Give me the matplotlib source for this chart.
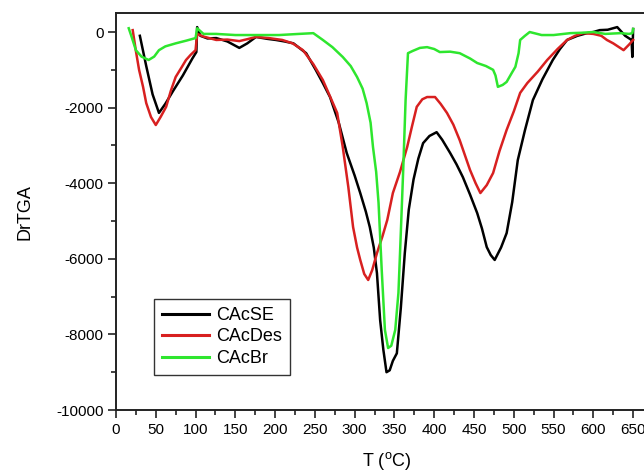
"""DrTGA curves of the three CAc samples."""

import matplotlib

matplotlib.use("Agg")
import matplotlib.pyplot as plt
from matplotlib.ticker import MultipleLocator

plt.rcParams["font.family"] = ["Liberation Sans", "DejaVu Sans"]
plt.rcParams["mathtext.fontset"] = "custom"
plt.rcParams["mathtext.rm"] = "Liberation Sans"
plt.rcParams["axes.unicode_minus"] = False

# values (T in °C, DrTGA)
t_se = [30, 38, 46, 54, 62, 72, 84, 96, 101, 102, 106, 115, 126, 140, 155, 165, 176,
        190, 201, 212, 223, 239, 251, 260, 269, 280, 290, 300, 307, 314, 319, 324, 328,
        332, 336, 340, 344, 348, 353, 358, 363, 368, 374, 380, 386, 394, 403, 410, 420,
        428, 436, 445, 454, 460, 466, 471, 476, 484, 491, 498, 505, 514, 524, 536, 549,
        558, 567, 580, 592, 600, 608, 618, 630, 640, 648, 649, 650]
v_se = [-100, -900, -1650, -2140, -1900, -1550, -1150, -700, -530, 130, -100, -170, -160,
        -250, -420, -300, -130, -180, -210, -250, -300, -560, -1000, -1350, -1720, -2400,
        -3200, -3800, -4260, -4750, -5160, -5700, -6380, -7620, -8400, -9000, -8950, -8700,
        -8500, -7300, -5850, -4700, -3900, -3350, -2940, -2750, -2650, -2850, -3200, -3500,
        -3840, -4300, -4790, -5200, -5690, -5900, -6030, -5700, -5320, -4500, -3390, -2600,
        -1800, -1250, -740, -450, -210, -100, -30, 0, 50, 60, 130, -100, -210, -660, 80]

t_des = [21, 25, 29, 34, 38, 44, 50, 56, 63, 69, 75, 82, 88, 94, 100, 102, 110, 126, 140,
         155, 165, 176, 192, 209, 222, 235, 248, 260, 270, 278, 285, 292, 298, 303, 307,
         312, 317, 322, 328, 335, 341, 348, 357, 366, 372, 378, 385, 391, 401, 408, 416,
         424, 432, 445, 452, 458, 466, 474, 482, 491, 500, 508, 517, 530, 542, 555, 567,
         577, 587, 600, 610, 617, 625, 638, 645, 650]
v_des = [50, -500, -1000, -1450, -1880, -2250, -2460, -2250, -1980, -1550, -1190, -950,
         -740, -600, -480, -50, -120, -210, -200, -240, -190, -130, -160, -210, -300, -480,
         -850, -1270, -1750, -2140, -3040, -4100, -5160, -5700, -6030, -6400, -6560, -6300,
         -5850, -5400, -4970, -4260, -3700, -3040, -2500, -1980, -1780, -1720, -1720, -1900,
         -2140, -2450, -2860, -3650, -4000, -4260, -4050, -3730, -3150, -2590, -2100, -1610,
         -1350, -1050, -740, -450, -210, -100, -30, -50, -100, -210, -300, -480, -330, -210]

t_br = [16, 20, 25, 32, 41, 48, 54, 62, 75, 88, 100, 102, 110, 126, 150, 180, 205, 230,
        248, 260, 272, 285, 295, 303, 310, 315, 320, 323, 327, 330, 334, 338, 342, 346,
        351, 355, 357, 361, 364, 367, 373, 382, 391, 400, 407, 420, 432, 445, 454, 465,
        474, 477, 480, 486, 491, 497, 502, 506, 508, 514, 520, 535, 550, 571, 585, 600,
        615, 634, 645, 649, 650]
v_br = [100, -150, -480, -650, -740, -650, -480, -380, -300, -230, -160, 100, -50, -50,
        -80, -80, -80, -50, -30, -210, -400, -660, -900, -1190, -1500, -1880, -2400, -3040,
        -3700, -4520, -6300, -7880, -8360, -8300, -7880, -6900, -5850, -3650, -1800, -560,
        -500, -420, -400, -450, -530, -520, -560, -700, -820, -900, -1000, -1150, -1450,
        -1400, -1320, -1100, -920, -560, -210, -100, 0, -80, -80, -30, -20, 0, -50, -30,
        -50, -30, 80]

fig = plt.figure(figsize=(6.44, 4.73), dpi=100)
ax = fig.add_axes([116 / 644, 63 / 473, 541 / 644, 396.5 / 473])

ax.plot(t_se, v_se, color="#000000", lw=1.8, label="CAcSE")
ax.plot(t_des, v_des, color="#d82020", lw=1.8, label="CAcDes")
ax.plot(t_br, v_br, color="#2ee62e", lw=1.8, label="CAcBr")

ax.set_xlim(0, 680)
ax.set_ylim(-10000, 490)
ax.xaxis.set_major_locator(MultipleLocator(50))
ax.xaxis.set_minor_locator(MultipleLocator(25))
ax.yaxis.set_major_locator(MultipleLocator(2000))
ax.yaxis.set_minor_locator(MultipleLocator(1000))
ax.tick_params(which="both", direction="out", top=False, right=False,
               labelsize=11, width=1.2, color="#222222")
ax.tick_params(which="major", length=6, pad=3)
ax.tick_params(which="minor", length=3.5)
for sp in ax.spines.values():
    sp.set_linewidth(1.4)
    sp.set_color("#222222")

ax.set_xlabel(r"T ($^{\mathrm{o}}$C)", fontsize=13, labelpad=10)
ax.set_ylabel("DrTGA", fontsize=13, labelpad=16)

leg = ax.legend(loc="lower left", bbox_to_anchor=(0.07, 0.088), borderaxespad=0,
                fontsize=13, fancybox=False, edgecolor="#333333", framealpha=1,
                handlelength=2.6, handletextpad=0.4, labelspacing=0.25,
                borderpad=0.45)
leg.get_frame().set_linewidth(1.0)
for line in leg.get_lines():
    line.set_linewidth(2.2)

fig.savefig("out.png", dpi=100)
